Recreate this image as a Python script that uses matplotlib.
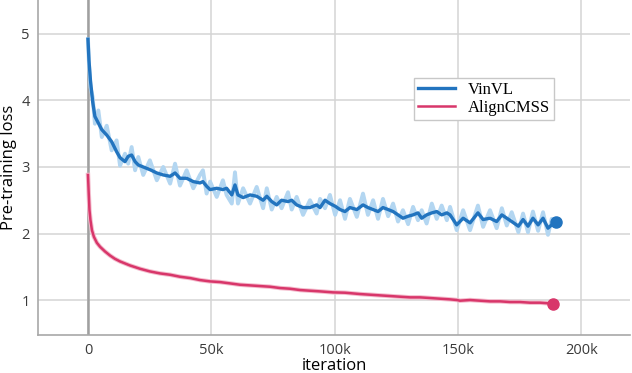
import numpy as np
import matplotlib
matplotlib.use("Agg")
import matplotlib.pyplot as plt

# iterations (thousands) and losses
vin_k = [0, 0.4, 1.0, 1.9, 2.8, 4.2, 5.6, 7.6, 9.6, 11.6, 13.0, 15.0, 16.3, 17.7, 19.1, 20.4,
         22.4, 25.1, 27.9, 30.5, 33.3, 35.3, 37.3, 40.0, 42.7, 45.4, 46.6, 48.1, 49.5, 52.2,
         54.7, 56.2, 58.3, 59.6, 60.8, 62.9, 65.7, 68.4, 71.0, 72.5, 74.5, 76.5, 78.5, 81.1,
         82.6, 84.6, 87.2, 90.0, 92.7, 94.1, 96.1, 98.1, 100.2, 102.2, 104.2, 106.2, 109.0,
         111.5, 113.5, 115.6, 117.6, 119.6, 121.7, 123.7, 125.7, 127.7, 129.8, 131.8, 133.8,
         135.3, 137.3, 139.4, 141.4, 143.4, 145.5, 146.8, 149.5, 152.1, 154.9, 158.1, 160.2,
         163.0, 165.7, 167.8, 169.8, 171.8, 174.5, 176.4, 178.4, 180.4, 182.5, 184.5, 186.5,
         188.0, 189.8]
vin_smooth = [4.92, 4.6, 4.3, 3.98, 3.76, 3.66, 3.56, 3.48, 3.38, 3.23, 3.14, 3.08, 3.16, 3.18,
              3.08, 3.03, 3.0, 2.96, 2.91, 2.88, 2.86, 2.91, 2.83, 2.83, 2.78, 2.76, 2.78, 2.71,
              2.66, 2.68, 2.66, 2.68, 2.58, 2.73, 2.58, 2.54, 2.58, 2.56, 2.5, 2.56, 2.48, 2.43,
              2.5, 2.48, 2.5, 2.43, 2.39, 2.39, 2.43, 2.39, 2.5, 2.45, 2.41, 2.36, 2.33, 2.39,
              2.36, 2.43, 2.39, 2.36, 2.33, 2.39, 2.36, 2.33, 2.28, 2.23, 2.26, 2.28, 2.31, 2.23,
              2.28, 2.31, 2.33, 2.28, 2.31, 2.28, 2.13, 2.23, 2.16, 2.31, 2.21, 2.23, 2.18, 2.28,
              2.23, 2.18, 2.11, 2.21, 2.11, 2.23, 2.13, 2.23, 2.08, 2.13, 2.18]
vin_raw = [4.92, 4.55, 4.2, 4.05, 3.65, 3.85, 3.45, 3.62, 3.25, 3.4, 3.02, 3.2, 3.05, 3.3, 2.95,
           3.15, 2.88, 3.1, 2.8, 3.0, 2.75, 3.05, 2.72, 2.95, 2.68, 2.88, 2.95, 2.6, 2.78, 2.55,
           2.8, 2.58, 2.45, 2.92, 2.45, 2.68, 2.45, 2.7, 2.38, 2.68, 2.36, 2.55, 2.38, 2.62, 2.36,
           2.55, 2.28, 2.5, 2.3, 2.52, 2.38, 2.58, 2.28, 2.5, 2.22, 2.52, 2.25, 2.6, 2.28, 2.5,
           2.22, 2.52, 2.26, 2.45, 2.18, 2.35, 2.14, 2.4, 2.2, 2.35, 2.15, 2.45, 2.22, 2.42, 2.2,
           2.4, 2.05, 2.35, 2.05, 2.42, 2.1, 2.35, 2.08, 2.38, 2.12, 2.32, 2.02, 2.3, 2.02, 2.33,
           2.04, 2.32, 1.98, 2.22, 2.18]

align_k = [0, 0.3, 0.6, 1.0, 1.6, 2.4, 3.6, 4.9, 6.9, 8.9, 10.9, 13.0, 17.0, 21.1, 25.1, 29.2,
           33.3, 37.3, 41.4, 45.4, 49.5, 53.5, 57.6, 61.6, 65.7, 69.7, 73.8, 77.9, 81.9, 86.0,
           90.0, 94.1, 99.3, 104.2, 110.3, 114.4, 118.4, 122.5, 126.5, 130.6, 134.6, 138.7,
           142.7, 146.8, 149.6, 150.8, 154.9, 159.0, 163.0, 167.1, 171.1, 175.2, 179.2, 183.3,
           188.6]
align_loss = [2.88, 2.6, 2.35, 2.2, 2.05, 1.95, 1.86, 1.8, 1.73, 1.67, 1.62, 1.58, 1.52, 1.47,
              1.43, 1.4, 1.38, 1.35, 1.33, 1.3, 1.28, 1.27, 1.25, 1.23, 1.22, 1.21, 1.2, 1.18,
              1.17, 1.15, 1.14, 1.13, 1.115, 1.11, 1.09, 1.08, 1.07, 1.06, 1.05, 1.04, 1.04,
              1.03, 1.02, 1.01, 1.0, 0.99, 1.0, 0.99, 0.98, 0.98, 0.97, 0.97, 0.96, 0.96, 0.945]

x_ticks = [0, 50, 100, 150, 200]
x_labels = ["0", "50k", "100k", "150k", "200k"]
y_ticks = [1, 2, 3, 4, 5]

blue = "#2274bf"
light_blue = "#b3d6f1"
pink = "#d8366a"

plt.rcParams['font.family'] = ['Open Sans', 'DejaVu Sans']

fig = plt.figure(figsize=(6.32, 3.73), dpi=100)
ax = fig.add_axes([0.060, 0.102, 0.937, 0.898])

vk = np.array(vin_k) * 1000
ak = np.array(align_k) * 1000

ax.plot(vk, vin_raw, color=light_blue, lw=2.8, zorder=3)
ax.plot(vk, vin_smooth, color=blue, lw=2.4, zorder=4, label="VinVL")
ax.plot(ak, align_loss, color="#f4bccd", lw=3.2, zorder=3)
ax.plot(ak, align_loss, color=pink, lw=1.8, zorder=4, label="AlignCMSS")
ax.plot(vk[-1], vin_smooth[-1], "o", color=blue, ms=8, zorder=5)
ax.plot(ak[-1], align_loss[-1], "o", color=pink, ms=8, zorder=5)

ax.axvline(0, color="#a0a0a0", lw=1.8, zorder=2)

ax.set_xlim(-20300, 219800)
ax.set_ylim(0.475, 5.51)
ax.set_xticks(np.array(x_ticks) * 1000)
ax.set_xticklabels(x_labels)
ax.set_yticks(y_ticks)
ax.tick_params(length=0, labelsize=10.5, labelcolor="#3a3a3a", pad=6)
ax.grid(True, color="#d4d4d4", lw=1.1)
ax.set_axisbelow(True)
for s in ["top", "right"]:
    ax.spines[s].set_visible(False)
for s in ["left", "bottom"]:
    ax.spines[s].set_color("#a8a8a8")
    ax.spines[s].set_linewidth(1.2)

ax.set_xlabel("iteration", fontsize=12, labelpad=0)
ax.set_ylabel("Pre-training loss", fontsize=12, labelpad=3)

leg = ax.legend(loc="upper left", bbox_to_anchor=(0.635, 0.767), borderaxespad=0,
                prop={"family": "Liberation Serif", "size": 12}, fancybox=False,
                handlelength=2.2, handletextpad=0.8, borderpad=0.25, labelspacing=0.1,
                framealpha=1)
leg.get_frame().set_edgecolor("#c8c8c8")
leg.get_frame().set_linewidth(1.0)

fig.savefig("out.png", dpi=100)
